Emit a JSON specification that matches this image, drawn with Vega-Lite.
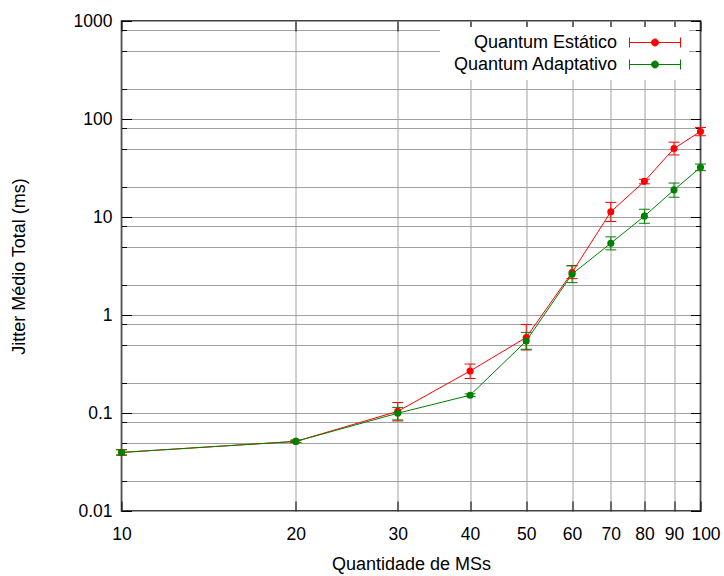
{
  "$schema": "https://vega.github.io/schema/vega-lite/v6.json",
  "width": 579,
  "height": 490,
  "autosize": {"type": "none"},
  "padding": {"left": 121.5, "top": 21, "right": 23.5, "bottom": 65},
  "background": "white",
  "config": {
    "view": {"stroke": "black", "strokeWidth": 1.5},
    "font": "Liberation Sans",
    "axis": {
      "labelFont": "Liberation Sans",
      "labelFontSize": 17.5,
      "labelFontWeight": "normal",
      "labelColor": "black",
      "titleFont": "Liberation Sans",
      "titleFontSize": 18,
      "titleFontWeight": "normal",
      "titleColor": "black",
      "domain": false,
      "tickColor": "black",
      "tickWidth": 1,
      "gridColor": "#a0a0a0",
      "gridWidth": 1,
      "gridOpacity": 1,
      "labelOverlap": false,
      "labelFlush": false
    }
  },
  "data": {
    "values": [
      {"n": 10, "serie": "Quantum Estático", "jitter": 0.0396, "lo": 0.0372, "hi": 0.0422},
      {"n": 20, "serie": "Quantum Estático", "jitter": 0.0513, "lo": 0.0500, "hi": 0.0528},
      {"n": 30, "serie": "Quantum Estático", "jitter": 0.104, "lo": 0.083, "hi": 0.128},
      {"n": 40, "serie": "Quantum Estático", "jitter": 0.268, "lo": 0.225, "hi": 0.316},
      {"n": 50, "serie": "Quantum Estático", "jitter": 0.59, "lo": 0.44, "hi": 0.80},
      {"n": 60, "serie": "Quantum Estático", "jitter": 2.72, "lo": 2.35, "hi": 3.2},
      {"n": 70, "serie": "Quantum Estático", "jitter": 11.3, "lo": 9.0, "hi": 14.1},
      {"n": 80, "serie": "Quantum Estático", "jitter": 23.1, "lo": 21.8, "hi": 24.3},
      {"n": 90, "serie": "Quantum Estático", "jitter": 50.0, "lo": 43.0, "hi": 58.0},
      {"n": 100, "serie": "Quantum Estático", "jitter": 74.6, "lo": 67.5, "hi": 82.0},
      {"n": 10, "serie": "Quantum Adaptativo", "jitter": 0.0396, "lo": 0.0372, "hi": 0.0422},
      {"n": 20, "serie": "Quantum Adaptativo", "jitter": 0.0513, "lo": 0.0500, "hi": 0.0528},
      {"n": 30, "serie": "Quantum Adaptativo", "jitter": 0.0995, "lo": 0.085, "hi": 0.114},
      {"n": 40, "serie": "Quantum Adaptativo", "jitter": 0.152, "lo": 0.147, "hi": 0.157},
      {"n": 50, "serie": "Quantum Adaptativo", "jitter": 0.542, "lo": 0.447, "hi": 0.665},
      {"n": 60, "serie": "Quantum Adaptativo", "jitter": 2.61, "lo": 2.14, "hi": 3.17},
      {"n": 70, "serie": "Quantum Adaptativo", "jitter": 5.40, "lo": 4.62, "hi": 6.27},
      {"n": 80, "serie": "Quantum Adaptativo", "jitter": 10.2, "lo": 8.63, "hi": 12.0},
      {"n": 90, "serie": "Quantum Adaptativo", "jitter": 18.9, "lo": 15.9, "hi": 22.2},
      {"n": 100, "serie": "Quantum Adaptativo", "jitter": 32.1, "lo": 29.7, "hi": 34.7}
    ]
  },
  "encoding": {
    "color": {
      "field": "serie", "type": "nominal",
      "scale": {"domain": ["Quantum Estático", "Quantum Adaptativo"], "range": ["#ff0000", "#008000"]},
      "legend": {
        "orient": "none",
        "direction": "vertical",
        "legendX": 318.5,
        "legendY": 6,
        "title": null,
        "padding": 6,
        "fillColor": "white",
        "labelFont": "Liberation Sans",
        "labelFontSize": 18,
        "labelColor": "black",
        "labelAlign": "right",
        "labelOffset": -47.5,
        "labelLimit": 300,
        "symbolOffset": 199.5,
        "symbolType": "M-2.833,0H2.833M-2.833,-0.556V0.556M2.833,-0.556V0.556M-0.39,0A0.39,0.39,0,1,0,0.39,0A0.39,0.39,0,1,0,-0.39,0Z",
        "symbolSize": 324,
        "symbolStrokeWidth": 1,
        "symbolOpacity": 1,
        "rowPadding": 3,
        "encode": {
          "symbols": {
            "update": {
              "stroke": {"scale": "color", "field": "value"},
              "fill": {"scale": "color", "field": "value"}
            }
          },
          "labels": {
            "update": {
              "align": {"value": "right"}
            }
          }
        }
      }
    }
  },
  "layer": [
    {
      "mark": {"type": "rule", "strokeWidth": 1},
      "encoding": {
        "x": {"field": "n", "type": "quantitative", "scale": {"type": "log", "domain": [10, 100], "nice": false}, "axis": null},
        "y": {"field": "lo", "type": "quantitative", "scale": {"type": "log", "domain": [0.01, 1000], "nice": false}, "axis": null},
        "y2": {"field": "hi"}
      }
    },
    {
      "mark": {"type": "tick", "orient": "horizontal", "size": 11, "thickness": 1, "opacity": 1},
      "encoding": {
        "x": {"field": "n", "type": "quantitative", "scale": {"type": "log", "domain": [10, 100], "nice": false}, "axis": null},
        "y": {"field": "lo", "type": "quantitative", "scale": {"type": "log", "domain": [0.01, 1000], "nice": false}, "axis": null}
      }
    },
    {
      "mark": {"type": "tick", "orient": "horizontal", "size": 11, "thickness": 1, "opacity": 1},
      "encoding": {
        "x": {"field": "n", "type": "quantitative", "scale": {"type": "log", "domain": [10, 100], "nice": false}, "axis": null},
        "y": {"field": "hi", "type": "quantitative", "scale": {"type": "log", "domain": [0.01, 1000], "nice": false}, "axis": null}
      }
    },
    {
      "mark": {"type": "line", "strokeWidth": 1},
      "encoding": {
        "x": {
          "field": "n", "type": "quantitative",
          "scale": {"type": "log", "domain": [10, 100], "nice": false},
          "axis": {
            "orient": "bottom",
            "values": [10, 20, 30, 40, 50, 60, 70, 80, 90, 100],
            "labelExpr": "'' + datum.value",
            "labelOffset": {"condition": {"test": "datum.value == 100", "value": 5}, "value": 0},
            "tickSize": -10,
            "labelPadding": 24.5,
            "grid": true,
            "title": "Quantidade de MSs",
            "titlePadding": 12
          }
        },
        "y": {
          "field": "jitter", "type": "quantitative",
          "scale": {"type": "log", "domain": [0.01, 1000], "nice": false},
          "axis": {
            "orient": "left",
            "values": [0.01, 0.02, 0.05, 0.08, 0.1, 0.2, 0.5, 0.8, 1, 2, 5, 8, 10, 20, 50, 80, 100, 200, 500, 800, 1000],
            "labelExpr": "indexof([0.01, 0.1, 1, 10, 100, 1000], datum.value) >= 0 ? '' + datum.value : ''",
            "tickSize": {"condition": {"test": "indexof([0.01, 0.1, 1, 10, 100, 1000], datum.value) >= 0", "value": -10}, "value": -5},
            "labelPadding": 19.5,
            "grid": true,
            "title": "Jitter Médio Total (ms)",
            "titlePadding": 45
          }
        }
      }
    },
    {
      "mark": {"type": "point", "filled": true, "size": 50, "opacity": 1},
      "encoding": {
        "x": {
          "field": "n", "type": "quantitative",
          "scale": {"type": "log", "domain": [10, 100], "nice": false},
          "axis": {
            "orient": "top",
            "values": [10, 20, 30, 40, 50, 60, 70, 80, 90, 100],
            "labels": false,
            "tickSize": -10,
            "grid": false,
            "title": null
          }
        },
        "y": {
          "field": "jitter", "type": "quantitative",
          "scale": {"type": "log", "domain": [0.01, 1000], "nice": false},
          "axis": {
            "orient": "right",
            "values": [0.01, 0.02, 0.05, 0.08, 0.1, 0.2, 0.5, 0.8, 1, 2, 5, 8, 10, 20, 50, 80, 100, 200, 500, 800, 1000],
            "labels": false,
            "tickSize": {"condition": {"test": "indexof([0.01, 0.1, 1, 10, 100, 1000], datum.value) >= 0", "value": -10}, "value": -5},
            "grid": false,
            "title": null
          }
        }
      }
    }
  ],
  "resolve": {"axis": {"x": "independent", "y": "independent"}}
}
